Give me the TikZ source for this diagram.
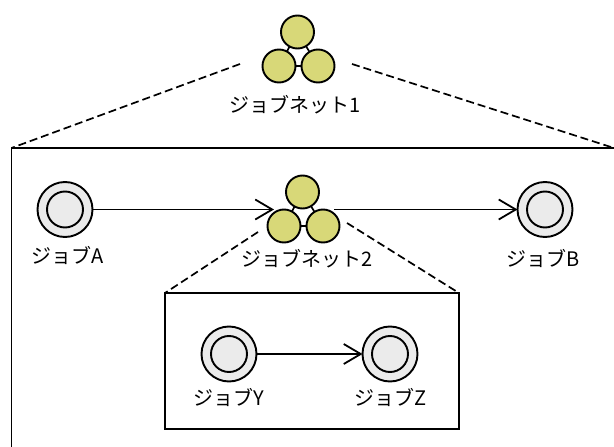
\documentclass[tikz,border=0pt]{standalone}
\usepackage{fontspec}
\setmainfont{Noto Sans CJK JP}
\usetikzlibrary{arrows.meta}
\definecolor{netyellow}{HTML}{D8D878}
\definecolor{jobgray}{HTML}{EBEBEB}
\tikzset{
    job/.style={circle, draw, line width=1.9pt, fill=jobgray, minimum size=55pt, inner sep=0pt, outer sep=0pt},
    jobin/.style={circle, draw, line width=1.9pt, fill=jobgray, minimum size=36pt, inner sep=0pt, outer sep=0pt},
    sub/.style={circle, draw, line width=1.9pt, fill=netyellow, minimum size=33pt, inner sep=0pt, outer sep=0pt},
    net/.style={minimum width=60pt, minimum height=10pt, inner sep=0pt, outer sep=0pt},
    lbl/.style={font=\fontsize{20}{20}\selectfont, inner sep=0pt, text=black},
    flow/.style={line width=1.8pt, -{Straight Barb[length=17pt,width=20pt,line width=1.8pt]}},
    zoomline/.style={line width=1.7pt, dash pattern=on 8pt off 4pt}
}
\begin{document}
\begin{tikzpicture}[x=1pt, y=-1pt]
    \useasboundingbox (0,0) rectangle (614,447);

    % job net 1
    \draw[line width=1.7pt] (297.5,32) coordinate (oT) -- (279,66) coordinate (oL) -- (318,66) coordinate (oR) -- cycle;
    \node[sub] (net1t) at (oT) {};
    \node[sub] (net1l) at (oL) {};
    \node[sub] (net1r) at (oR) {};
    \node[lbl] (lab1) at (295,105) {ジョブネット1};

    % outer frame
    \coordinate (frameTL) at (11.5,148);
    \coordinate (frameTR) at (614,148);
    \coordinate (frameBL) at (11.5,447);
    \draw[line width=1.8pt] (frameBL) -- (frameTL) -- (frameTR);
    \coordinate (from1L) at (240,64);
    \coordinate (from1R) at (352,64);
    \draw[zoomline] (from1L) -- (frameTL);
    \draw[zoomline] (from1R) -- (frameTR);

    % jobs in the outer frame
    \node[job] (jobA) at (65,209.5) {};
    \node[jobin] (jobAin) at (jobA) {};
    \node[lbl] (labA) at (68,255) {ジョブA};
    \node[job] (jobB) at (545,209.5) {};
    \node[jobin] (jobBin) at (jobB) {};
    \node[lbl] (labB) at (543,258) {ジョブB};

    % job net 2
    \draw[line width=1.7pt] (302.5,192) coordinate (iT) -- (284,226) coordinate (iL) -- (323,226) coordinate (iR) -- cycle;
    \node[sub] (net2t) at (iT) {};
    \node[sub] (net2l) at (iL) {};
    \node[sub] (net2r) at (iR) {};
    \node[net] (net2) at (304,209.5) {};
    \node[lbl] (lab2) at (307,259) {ジョブネット2};

    \draw[flow] (jobA) -- (net2);
    \draw[flow] (net2) -- (jobB);

    % inner frame
    \node[draw, line width=1.8pt, minimum width=294pt, minimum height=136pt, inner sep=0pt, outer sep=0pt] (frame2) at (312,361) {};
    \coordinate (from2L) at (258,232);
    \coordinate (from2R) at (347,223);
    \draw[zoomline] (from2L) -- (frame2.north west);
    \draw[zoomline] (from2R) -- (frame2.north east);

    \node[job] (jobY) at (229,354) {};
    \node[jobin] (jobYin) at (jobY) {};
    \node[lbl] (labY) at (229,397) {ジョブY};
    \node[job] (jobZ) at (390,354) {};
    \node[jobin] (jobZin) at (jobZ) {};
    \node[lbl] (labZ) at (391,397) {ジョブZ};

    \draw[flow] (jobY) -- (jobZ);
\end{tikzpicture}
\end{document}
